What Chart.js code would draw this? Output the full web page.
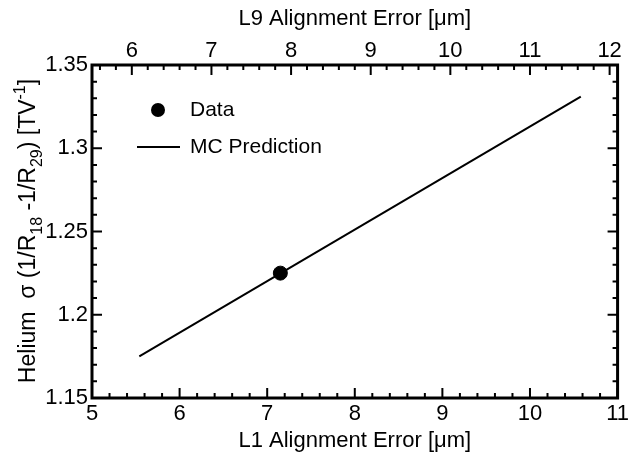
<!DOCTYPE html>
<html>
<head>
<meta charset="utf-8">
<script src="https://cdn.jsdelivr.net/npm/chart.js@4/dist/chart.umd.min.js"></script>
<style>
  html, body { margin: 0; padding: 0; background: #fff; }
  #wrap { width: 632px; height: 456px; }
</style>
</head>
<body>
<div id="wrap"><canvas id="chart" width="632" height="456"></canvas></div>
<script>
// measured point
const dataX = [7.15];
const dataY = [1.225];
// MC prediction line (end points)
const mcX = [5.54, 10.58];
const mcY = [1.175, 1.331];

const bottomTicks = [5, 6, 7, 8, 9, 10, 11];
const topTicks = [6, 7, 8, 9, 10, 11, 12];
const yTicks = [1.15, 1.2, 1.25, 1.3, 1.35];

const FONT = '"Liberation Sans", Arial, sans-serif';

// inward ticks, frame, legend and y title
const framePlugin = {
  id: 'frame',
  afterDraw(chart) {
    const ctx = chart.ctx;
    const a = chart.chartArea;
    const sx = chart.scales.x, sx2 = chart.scales.x2, sy = chart.scales.y;
    ctx.save();
    ctx.strokeStyle = '#000';
    ctx.lineWidth = 2;
    ctx.beginPath();
    for (let i = 0; i <= 30; i++) {
      const v = 5 + i * 0.2;
      const len = i % 5 === 0 ? 10 : 5;
      const px = sx.getPixelForValue(v);
      ctx.moveTo(px, a.bottom); ctx.lineTo(px, a.bottom - len);
    }
    for (let i = 0; i <= 32; i++) {
      const v = 5.6 + i * 0.2;
      const major = Math.abs(v - Math.round(v)) < 1e-6;
      const px = sx2.getPixelForValue(v);
      ctx.moveTo(px, a.top); ctx.lineTo(px, a.top + (major ? 10 : 5));
    }
    for (let i = 0; i <= 20; i++) {
      const v = 1.15 + i * 0.01;
      const len = i % 5 === 0 ? 10 : 5;
      const py = sy.getPixelForValue(v);
      ctx.moveTo(a.left, py); ctx.lineTo(a.left + len, py);
      ctx.moveTo(a.right, py); ctx.lineTo(a.right - len, py);
    }
    ctx.stroke();
    ctx.lineWidth = 3;
    ctx.strokeRect(a.left, a.top, a.right - a.left, a.bottom - a.top);

    // legend
    const ds = chart.data.datasets;
    ctx.fillStyle = '#000';
    ctx.font = '21px ' + FONT;
    ctx.textBaseline = 'middle';
    ctx.textAlign = 'left';
    ctx.beginPath();
    ctx.arc(a.left + 66, a.top + 45, 7, 0, Math.PI * 2);
    ctx.fill();
    ctx.fillText(ds[0].label, a.left + 98, a.top + 45);
    ctx.lineWidth = 2;
    ctx.beginPath();
    ctx.moveTo(a.left + 45, a.top + 82);
    ctx.lineTo(a.left + 88, a.top + 82);
    ctx.stroke();
    ctx.fillText(ds[1].label, a.left + 98, a.top + 82);

    // y axis title with sub/superscripts
    const size = 23;
    const parts = [
      ['Helium  \u03c3 (1/R', 0], ['18', 1], [' -1/R', 0], ['29', 1],
      [') [TV', 0], ['-1', -1], [']', 0]
    ];
    const fontFor = k => (k === 0 ? size : Math.round(size * 0.68)) + 'px ' + FONT;
    let total = 0;
    parts.forEach(p => { ctx.font = fontFor(p[1]); total += ctx.measureText(p[0]).width; });
    ctx.translate(35, 231);
    ctx.rotate(-Math.PI / 2);
    ctx.textBaseline = 'alphabetic';
    let x = -total / 2;
    parts.forEach(p => {
      ctx.font = fontFor(p[1]);
      const dy = p[1] === 1 ? size * 0.3 : p[1] === -1 ? -size * 0.42 : 0;
      ctx.fillText(p[0], x, dy);
      x += ctx.measureText(p[0]).width;
    });
    ctx.restore();
  }
};

const tickFont = { family: FONT, size: 22 };

new Chart(document.getElementById('chart'), {
  type: 'scatter',
  data: {
    datasets: [
      {
        label: 'Data',
        data: dataX.map((v, i) => ({ x: v, y: dataY[i] })),
        backgroundColor: '#000',
        borderColor: '#000',
        pointRadius: 7,
        order: 0
      },
      {
        label: 'MC Prediction',
        data: mcX.map((v, i) => ({ x: v, y: mcY[i] })),
        showLine: true,
        borderColor: '#000',
        borderWidth: 2,
        pointRadius: 0,
        order: 1
      }
    ]
  },
  options: {
    responsive: false,
    animation: false,
    devicePixelRatio: 1,
    layout: { padding: { left: 0, right: 14, top: 0, bottom: 0 } },
    plugins: { legend: { display: false }, tooltip: { enabled: false } },
    scales: {
      x: {
        type: 'linear', position: 'bottom', min: 5, max: 11,
        grid: { display: false, drawTicks: false }, border: { display: false },
        afterBuildTicks: s => { s.ticks = bottomTicks.map(v => ({ value: v })); },
        afterFit: s => { s.height = 58; },
        ticks: { font: tickFont, color: '#000', padding: 3, maxRotation: 0, autoSkip: false },
        title: { display: true, text: 'L1 Alignment Error [\u03bcm]', font: tickFont, color: '#000', padding: { top: 0, bottom: 2 } }
      },
      x2: {
        type: 'linear', position: 'top', min: 5.5, max: 12.1,
        grid: { display: false, drawTicks: false }, border: { display: false },
        afterBuildTicks: s => { s.ticks = topTicks.map(v => ({ value: v })); },
        afterFit: s => { s.height = 65; },
        ticks: { font: tickFont, color: '#000', padding: 1, maxRotation: 0, autoSkip: false },
        title: { display: true, text: 'L9 Alignment Error [\u03bcm]', font: tickFont, color: '#000', padding: { top: 6, bottom: 0 } }
      },
      y: {
        type: 'linear', position: 'left', min: 1.15, max: 1.35,
        grid: { display: false, drawTicks: false }, border: { display: false },
        afterBuildTicks: s => { s.ticks = yTicks.map(v => ({ value: v })); },
        afterFit: s => { s.width = 92; },
        ticks: { font: tickFont, color: '#000', padding: 4, autoSkip: false,
          callback: v => String(+v.toFixed(2)) }
      }
    }
  },
  plugins: [framePlugin]
});
</script>
</body>
</html>
